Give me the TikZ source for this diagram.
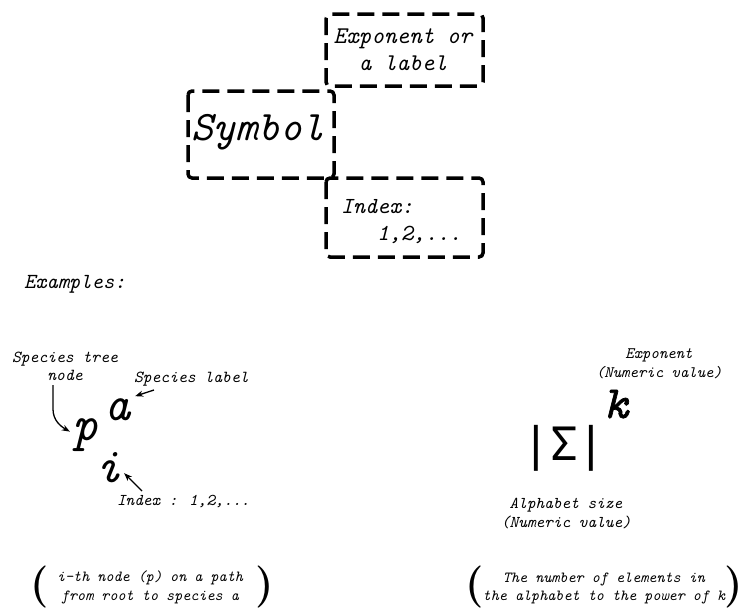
\documentclass[tikz,border=0pt]{standalone}
\usepackage{fontspec}
\usetikzlibrary{arrows.meta}
\newfontfamily\sigmafont{DejaVu Sans Mono}
\newfontfamily\kfont{lmmono10-italic}[Extension=.otf, FakeBold=1.5]
\begin{document}
\begin{tikzpicture}[x=1pt,y=-1pt,
  dbox/.style={draw, line width=3.5pt, dash pattern=on 17pt off 8pt, rounded corners=4pt},
  tx/.style={inner sep=0pt, outer sep=0pt, anchor=base, font=\fontsize{#1}{#1}\selectfont\ttfamily\itshape},
  txw/.style={tx=#1, anchor=base west},
  par/.style={inner sep=0pt, outer sep=0pt, anchor=base, font=\fontsize{42}{42}\selectfont\rmfamily\bfseries},
  arr/.style={-{Stealth[length=8pt,width=6pt]}, line width=1.3pt},
]
\useasboundingbox (0,0) rectangle (747,608);

% boxes
\draw[dbox] (326,14) rectangle (483,86);
\draw[dbox] (188,91) rectangle (334,178);
\draw[dbox] (326,178) rectangle (483,257);

\node[tx=42] (symtxt) at (258,140) {Symbol};
\node[tx=24] (exp1) at (403,43) {Exponent or};
\node[tx=24] (exp2) at (403,70) {a label};
\node[txw=23] (idx1) at (341,213) {Index:};
\node[txw=23] (idx2) at (377,240) {1,2,...};

\node[txw=21.5] (examples) at (24,288) {Examples:};

% left example
\node[tx=16.8] (tree1) at (65,362) {Species tree};
\node[tx=16.8] (tree2) at (65,380) {node};
\node[txw=16.8] (splabel) at (134,382) {Species label};
\node[tx=50] (p) at (86,440) {p};
\node[tx=50] (a) at (118,420) {a};
\node[tx=50] (i) at (109,482) {i};
\node[txw=16.5] (idxlbl) at (117,505) {Index : 1,2,...};

\draw[arr] ([xshift=-12pt,yshift=-5pt]tree2.south) -- ++(0,24) to[out=-90,in=150] ([xshift=-3pt,yshift=3pt]p.west);
\draw[arr] ([xshift=20pt,yshift=-8pt]splabel.base west) -- ([xshift=4pt,yshift=2pt]a.north east);
\draw[arr] ([xshift=25pt,yshift=14pt]idxlbl.base west) -- ([xshift=2pt,yshift=-6pt]i.east);

% right example
\node[tx=16] (exl1) at (659,358) {Exponent};
\node[tx=16] (exl2) at (659,377) {(Numeric value)};
\node[inner sep=0pt, anchor=base, font=\fontsize{46}{46}\selectfont\kfont] (k) at (616,418) {k};
\node[inner sep=0pt, anchor=base, font=\fontsize{46}{46}\selectfont\sigmafont] (sig) at (564,460) {|Σ|};
\node[tx=16.5] (al1) at (566,508) {Alphabet size};
\node[tx=16.5] (al2) at (566,527) {(Numeric value)};

% bottom notes
\node[par] (lp1) at (40,597) {(};
\node[tx=15.4] (n1a) at (150,581) {i-th node (p) on a path};
\node[tx=15.4] (n1b) at (150,600) {from root to species a};
\node[par] (rp1) at (265,597) {)};

\node[par] (lp2) at (475,597) {(};
\node[tx=15.4] (n2a) at (604,582) {The number of elements in};
\node[tx=15.4] (n2b) at (604,600) {the alphabet to the power of k};
\node[par] (rp2) at (734,597) {)};
\end{tikzpicture}
\end{document}
